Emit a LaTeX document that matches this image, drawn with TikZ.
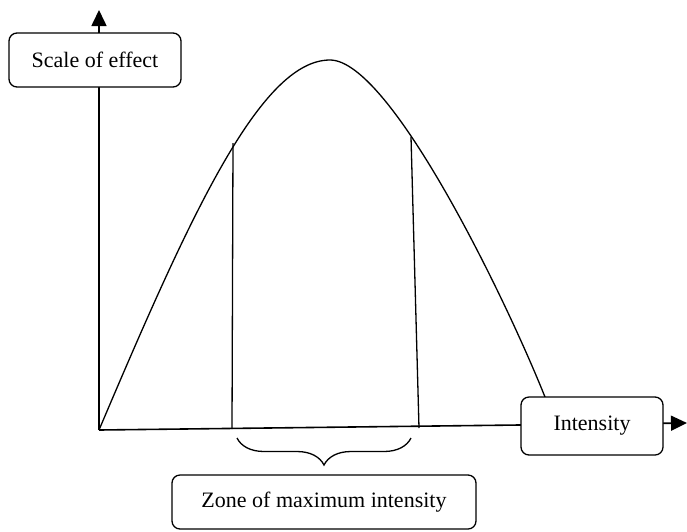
\documentclass[tikz,border=0pt]{standalone}
\usepackage{fontspec}
\setmainfont{Liberation Serif}
\usetikzlibrary{arrows.meta,decorations.pathreplacing}
\tikzset{
  lbl/.style={draw, line width=1.3pt, rounded corners=8pt, fill=white, align=center,
    inner sep=0pt, font=\fontsize{22}{26}\selectfont},
  axis/.style={line width=1.6pt, -{Triangle[length=16pt,width=15pt]}},
  thin line/.style={line width=1.3pt},
  curve/.style={line width=1.3pt},
}
\begin{document}
\begin{tikzpicture}[x=1pt,y=-1pt]
\useasboundingbox (0,0) rectangle (687,531);
% coordinates
\coordinate (O) at (99,430);
\coordinate (ytip) at (99,10);
\coordinate (xtip) at (687,423);
\coordinate (peak) at (330,60);
\coordinate (cend) at (545,397);
\coordinate (l1) at (233,143);
\coordinate (l0) at (232,429);
\coordinate (r1) at (411,137);
\coordinate (r0) at (419,428);
\coordinate (bL) at (237,438);
\coordinate (bR) at (411,438);
% axes
\draw[axis] (O) -- (ytip);
\draw[axis] (O) -- (xtip);
% curve
\draw[curve] (O) .. controls (189,218) and (260,60) .. (peak)
                 .. controls (390,60) and (505,297) .. (cend);
% zone lines
\draw[thin line] (l1) -- (l0);
\draw[thin line] (r1) -- (r0);
% brace
\draw[thin line, decorate, decoration={brace, mirror, amplitude=27pt}] (bL) -- (bR);
% labels
\node[lbl, minimum width=172pt, minimum height=54pt] (scale) at (95,60) {Scale of effect};
\node[lbl, minimum width=142pt, minimum height=58pt] (int) at (592,426) {Intensity};
\node[lbl, minimum width=304pt, minimum height=54pt] (zone) at (324,502) {Zone of maximum intensity};
\end{tikzpicture}
\end{document}
